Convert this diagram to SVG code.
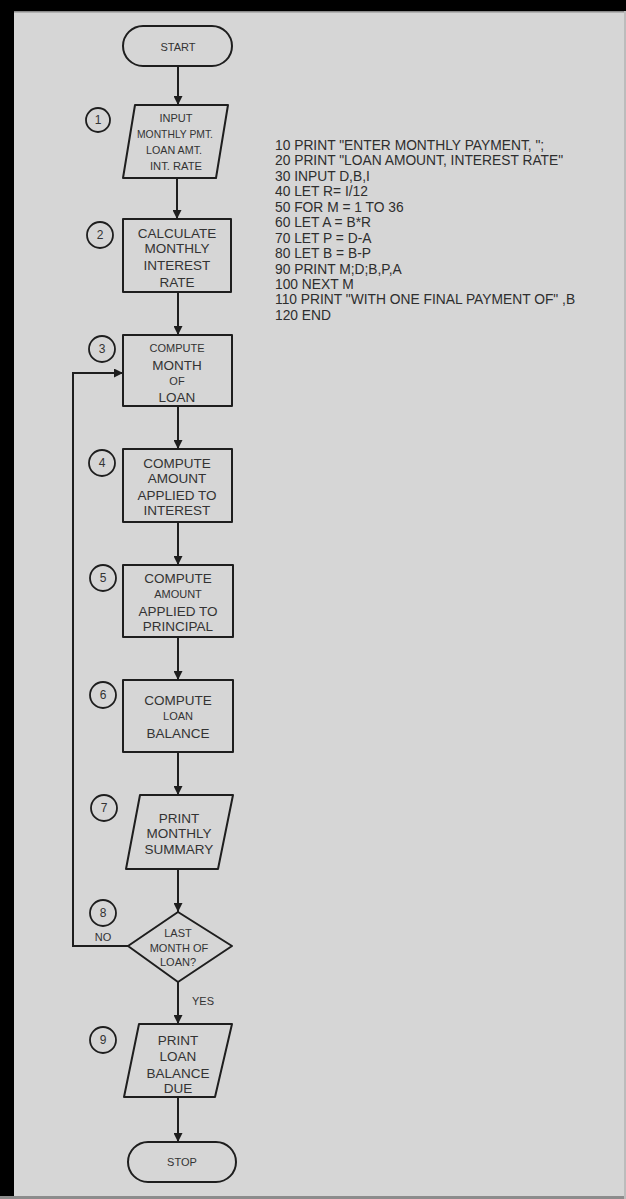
<svg xmlns="http://www.w3.org/2000/svg" width="626" height="1199" viewBox="0 0 626 1199">
<style>
.shape{fill:none;stroke:#1e1e1e;stroke-width:2;stroke-linejoin:round}
.conn{fill:none;stroke:#1e1e1e;stroke-width:2}
.t{font-family:"Liberation Sans",Arial,sans-serif;font-size:13.5px;fill:#333;text-anchor:middle}
.s{font-family:"Liberation Sans",Arial,sans-serif;font-size:11px;fill:#333;text-anchor:middle}
.num{font-family:"Liberation Sans",Arial,sans-serif;font-size:12px;fill:#333;text-anchor:middle}
.code{font-family:"Liberation Sans",Arial,sans-serif;font-size:13.8px;fill:#2e2e2e}
.circ{fill:none;stroke:#1e1e1e;stroke-width:1.8}
</style>
<defs>
<marker id="ah" viewBox="0 0 10 10" refX="10" refY="5" markerWidth="9" markerHeight="9" markerUnits="userSpaceOnUse" orient="auto">
<path d="M0,0 L10,5 L0,10 z" fill="#1e1e1e"/>
</marker>
</defs>
<rect x="0" y="0" width="626" height="1199" fill="#d6d6d6"/>
<rect x="0" y="0" width="626" height="11" fill="#000"/>
<rect x="0" y="11" width="626" height="1.5" fill="#8a8a8a"/>
<rect x="0" y="0" width="14" height="1199" fill="#000"/>
<rect x="0" y="1196" width="626" height="3" fill="#8c8c8c"/>
<rect x="624" y="11" width="2" height="1188" fill="#bcbcbc"/>

<g id="connectors">
<line class="conn" x1="178" y1="66" x2="178" y2="105" marker-end="url(#ah)"/>
<line class="conn" x1="177" y1="178" x2="177" y2="219" marker-end="url(#ah)"/>
<line class="conn" x1="178" y1="292" x2="178" y2="335" marker-end="url(#ah)"/>
<line class="conn" x1="178" y1="406" x2="178" y2="449" marker-end="url(#ah)"/>
<line class="conn" x1="178" y1="522" x2="178" y2="565" marker-end="url(#ah)"/>
<line class="conn" x1="178" y1="637" x2="178" y2="680" marker-end="url(#ah)"/>
<line class="conn" x1="178" y1="752" x2="178" y2="795" marker-end="url(#ah)"/>
<line class="conn" x1="178" y1="869" x2="178" y2="912" marker-end="url(#ah)"/>
<line class="conn" x1="178" y1="982" x2="178" y2="1024" marker-end="url(#ah)"/>
<line class="conn" x1="178" y1="1097" x2="178" y2="1142" marker-end="url(#ah)"/>
<polyline class="conn" points="128,946 73,946 73,373 123,373" marker-end="url(#ah)"/>
<text class="s" x="103" y="941">NO</text>
<text class="s" x="203" y="1005">YES</text>
</g>

<g id="start">
<rect class="shape" x="123" y="26" width="109" height="40" rx="20"/>
<text class="s" x="178" y="51">START</text>
</g>

<g id="node1">
<circle class="circ" cx="98" cy="120" r="12"/>
<text class="num" x="98" y="124">1</text>
<polygon class="shape" points="135,105 228,105 216,178 123,178"/>
<text class="s" x="176" y="122">INPUT</text>
<text class="s" x="175" y="138" textLength="76" lengthAdjust="spacingAndGlyphs">MONTHLY PMT.</text>
<text class="s" x="174" y="154" textLength="56" lengthAdjust="spacingAndGlyphs">LOAN AMT.</text>
<text class="s" x="176" y="170" textLength="52" lengthAdjust="spacingAndGlyphs">INT. RATE</text>
</g>

<g id="node2">
<circle class="circ" cx="100" cy="235" r="13"/>
<text class="num" x="100" y="239">2</text>
<rect class="shape" x="123" y="219" width="108" height="73"/>
<text class="t" x="177" y="238">CALCULATE</text>
<text class="t" x="177" y="253">MONTHLY</text>
<text class="t" x="177" y="270">INTEREST</text>
<text class="t" x="177" y="287">RATE</text>
</g>

<g id="node3">
<circle class="circ" cx="102" cy="349" r="13"/>
<text class="num" x="102" y="353">3</text>
<rect class="shape" x="123" y="335" width="109" height="71"/>
<text class="s" x="177" y="352">COMPUTE</text>
<text class="t" x="177" y="370">MONTH</text>
<text class="s" x="177" y="385">OF</text>
<text class="t" x="177" y="402">LOAN</text>
</g>

<g id="node4">
<circle class="circ" cx="102" cy="463" r="13"/>
<text class="num" x="102" y="467">4</text>
<rect class="shape" x="123" y="449" width="109" height="73"/>
<text class="t" x="177" y="468">COMPUTE</text>
<text class="t" x="177" y="483">AMOUNT</text>
<text class="t" x="177" y="500">APPLIED TO</text>
<text class="t" x="177" y="515">INTEREST</text>
</g>

<g id="node5">
<circle class="circ" cx="103" cy="578" r="13"/>
<text class="num" x="103" y="582">5</text>
<rect class="shape" x="123" y="565" width="110" height="72"/>
<text class="t" x="178" y="583">COMPUTE</text>
<text class="s" x="178" y="598">AMOUNT</text>
<text class="t" x="178" y="616">APPLIED TO</text>
<text class="t" x="178" y="631">PRINCIPAL</text>
</g>

<g id="node6">
<circle class="circ" cx="103" cy="695" r="13"/>
<text class="num" x="103" y="699">6</text>
<rect class="shape" x="123" y="680" width="110" height="72"/>
<text class="t" x="178" y="705">COMPUTE</text>
<text class="s" x="178" y="720">LOAN</text>
<text class="t" x="178" y="738">BALANCE</text>
</g>

<g id="node7">
<circle class="circ" cx="104" cy="808" r="13"/>
<text class="num" x="104" y="812">7</text>
<polygon class="shape" points="140,795 233,795 218,869 126,869"/>
<text class="t" x="179" y="823">PRINT</text>
<text class="t" x="179" y="838">MONTHLY</text>
<text class="t" x="179" y="854">SUMMARY</text>
</g>

<g id="node8">
<circle class="circ" cx="103" cy="913" r="13"/>
<text class="num" x="103" y="917">8</text>
<polygon class="shape" points="178,912 232,946 178,982 128,946"/>
<text class="s" x="178" y="937">LAST</text>
<text class="s" x="179" y="952">MONTH OF</text>
<text class="s" x="178" y="966">LOAN?</text>
</g>

<g id="node9">
<circle class="circ" cx="103" cy="1040" r="13"/>
<text class="num" x="103" y="1044">9</text>
<polygon class="shape" points="139,1024 232,1024 215,1097 124,1097"/>
<text class="t" x="178" y="1045">PRINT</text>
<text class="t" x="178" y="1061">LOAN</text>
<text class="t" x="178" y="1078">BALANCE</text>
<text class="t" x="178" y="1093">DUE</text>
</g>

<g id="stop">
<rect class="shape" x="128" y="1142" width="108" height="40" rx="20"/>
<text class="s" x="182" y="1166">STOP</text>
</g>

<g id="program">
<text class="code" x="275" y="150">10 PRINT "ENTER MONTHLY PAYMENT, ";</text>
<text class="code" x="275" y="165">20 PRINT "LOAN AMOUNT, INTEREST RATE"</text>
<text class="code" x="275" y="181">30 INPUT D,B,I</text>
<text class="code" x="275" y="196">40 LET R= I/12</text>
<text class="code" x="275" y="212">50 FOR M = 1 TO 36</text>
<text class="code" x="275" y="227">60 LET A = B*R</text>
<text class="code" x="275" y="243">70 LET P = D-A</text>
<text class="code" x="275" y="258">80 LET B = B-P</text>
<text class="code" x="275" y="274">90 PRINT M;D;B,P,A</text>
<text class="code" x="275" y="289">100 NEXT M</text>
<text class="code" x="275" y="304">110 PRINT "WITH ONE FINAL PAYMENT OF" ,B</text>
<text class="code" x="275" y="320">120 END</text>
</g>
</svg>
